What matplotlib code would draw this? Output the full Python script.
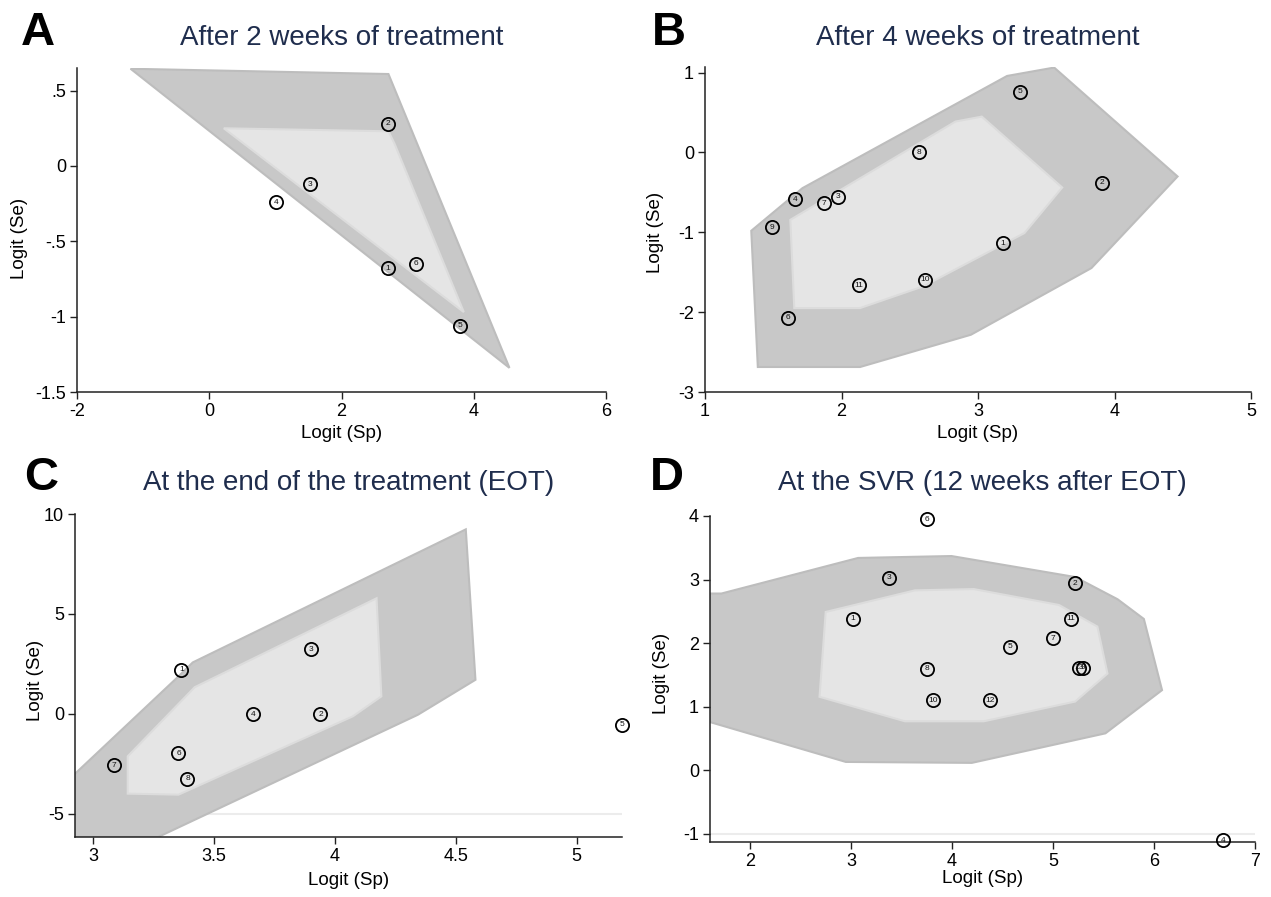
import matplotlib
matplotlib.use("Agg")
from matplotlib import pyplot as plt
from matplotlib.patches import Polygon

plt.rcParams["font.family"] = ["Liberation Sans", "DejaVu Sans"]

# ---- Panel A: after 2 weeks ----
a_ids = ["1", "2", "3", "4", "5", "6"]
a_sp = [2.70, 2.70, 1.53, 1.01, 3.79, 3.12]
a_se = [-0.68, 0.28, -0.12, -0.24, -1.06, -0.65]
a_outer = [(-1.19, 0.645), (2.71, 0.61), (4.54, -1.34)]
a_inner = [(0.22, 0.25), (2.71, 0.23), (2.80, 0.15), (3.85, -0.97)]

# ---- Panel B: after 4 weeks ----
b_ids = ["1", "2", "3", "4", "5", "6", "7", "8", "9", "10", "11"]
b_sp = [3.18, 3.91, 1.975, 1.66, 3.31, 1.61, 1.87, 2.57, 1.49, 2.61, 2.13]
b_se = [-1.14, -0.38, -0.556, -0.585, 0.76, -2.07, -0.635, 0.0, -0.935, -1.594, -1.665]
b_outer = [(1.339, -0.981), (1.714, -0.447), (3.213, 0.958), (3.558, 1.063),
           (4.462, -0.301), (3.831, -1.448), (2.948, -2.283), (2.136, -2.687),
           (1.387, -2.687)]
b_inner = [(1.625, -0.844), (2.835, 0.387), (3.028, 0.449), (3.617, -0.439),
           (3.34, -1.01), (2.597, -1.678), (2.136, -1.949), (1.654, -1.949)]

# ---- Panel C: end of treatment ----
c_ids = ["1", "2", "3", "4", "5", "6", "7", "8"]
c_sp = [3.366, 3.941, 3.903, 3.664, 5.186, 3.354, 3.086, 3.391]
c_se = [2.2, -0.02, 3.23, -0.02, -0.55, -1.97, -2.58, -3.25]
c_outer = [(2.90, -3.3), (3.346, 1.78), (3.413, 2.57), (4.542, 9.23),
           (4.582, 1.7), (4.344, -0.05), (3.27, -6.17), (2.90, -6.17)]
c_inner = [(3.144, -4.0), (3.144, -2.13), (3.421, 1.33), (4.173, 5.78),
           (4.193, 0.87), (4.075, -0.13), (3.354, -4.05)]

# ---- Panel D: SVR ----
d_ids = ["1", "2", "3", "4", "5", "6", "7", "8", "13", "9", "10", "11", "12"]
d_sp = [3.02, 5.22, 3.38, 6.68, 4.58, 3.755, 5.0, 3.75, 5.26, 5.30, 3.815, 5.18, 4.38]
d_se = [2.38, 2.94, 3.03, -1.10, 1.94, 3.95, 2.08, 1.60, 1.61, 1.61, 1.10, 2.38, 1.10]
d_outer = [(1.60, 2.78), (1.719, 2.78), (3.072, 3.34), (3.996, 3.37), (5.22, 3.04),
           (5.64, 2.69), (5.90, 2.38), (6.08, 1.26), (5.52, 0.58), (4.197, 0.115),
           (2.95, 0.13), (1.60, 0.76)]
d_inner = [(2.751, 2.49), (3.634, 2.83), (4.217, 2.85), (5.06, 2.60), (5.44, 2.26),
           (5.54, 1.52), (5.22, 1.08), (4.317, 0.77), (3.534, 0.77), (2.69, 1.155)]

W, H = 1271, 897
fig = plt.figure(figsize=(W / 100, H / 100), dpi=100)


def px(x, y):
    # 像素 -> figure 坐标
    return x / W, 1 - y / H


# 每个面板: 轴区域像素 (左, 上, 右, 下), 标题/字母/轴标题的位置
panels = [
    dict(letter="A", title="After 2 weeks of treatment", box=(77, 68, 606, 392),
         ids=a_ids, sp=a_sp, se=a_se, outer=a_outer, inner=a_inner,
         xl=(-2, 6), yl=(-1.5, 0.65),
         xt=[-2, 0, 2, 4, 6], xtl=["-2", "0", "2", "4", "6"],
         yt=[-1.5, -1, -0.5, 0, 0.5], ytl=["-1.5", "-1", "-.5", "0", ".5"],
         faint=None, let_xy=(21, 45), tit_y=45, ylab=(20, 238), xlab_y=433),
    dict(letter="B", title="After 4 weeks of treatment", box=(705, 67, 1251, 392),
         ids=b_ids, sp=b_sp, se=b_se, outer=b_outer, inner=b_inner,
         xl=(1, 5), yl=(-3, 1.07),
         xt=[1, 2, 3, 4, 5], xtl=["1", "2", "3", "4", "5"],
         yt=[-3, -2, -1, 0, 1], ytl=["-3", "-2", "-1", "0", "1"],
         faint=None, let_xy=(652, 45), tit_y=45, ylab=(655, 232), xlab_y=433),
    dict(letter="C", title="At the end of the treatment (EOT)", box=(75, 514, 622, 837),
         ids=c_ids, sp=c_sp, se=c_se, outer=c_outer, inner=c_inner,
         xl=(2.926, 5.188), yl=(-6.17, 10),
         xt=[3, 3.5, 4, 4.5, 5], xtl=["3", "3.5", "4", "4.5", "5"],
         yt=[-5, 0, 5, 10], ytl=["-5", "0", "5", "10"],
         faint=-5, let_xy=(24, 490), tit_y=490, ylab=(36, 680), xlab_y=880),
    dict(letter="D", title="At the SVR (12 weeks after EOT)", box=(710, 516, 1255, 842),
         ids=d_ids, sp=d_sp, se=d_se, outer=d_outer, inner=d_inner,
         xl=(1.606, 7), yl=(-1.13, 4.0),
         xt=[2, 3, 4, 5, 6, 7], xtl=["2", "3", "4", "5", "6", "7"],
         yt=[-1, 0, 1, 2, 3, 4], ytl=["-1", "0", "1", "2", "3", "4"],
         faint=-1, let_xy=(650, 490), tit_y=490, ylab=(661, 673), xlab_y=878),
]

for p in panels:
    l, t, r, b = p["box"]
    ax = fig.add_axes([l / W, 1 - b / H, (r - l) / W, (b - t) / H])
    ax.set_xlim(p["xl"])
    ax.set_ylim(p["yl"])
    if p["faint"] is not None:
        ax.axhline(p["faint"], color="#ececec", lw=1.5, zorder=0)
    ax.add_patch(Polygon(p["outer"], closed=True, facecolor="#c8c8c8",
                         edgecolor="#bdbdbd", lw=1.5, zorder=1))
    ax.add_patch(Polygon(p["inner"], closed=True, facecolor="#e5e5e5",
                         edgecolor="#dcdcdc", lw=1.5, zorder=2))
    ax.plot(p["sp"], p["se"], "o", ms=9.5, mfc="none", mec="black", mew=1.3,
            zorder=4, clip_on=False)
    for s, x, y in zip(p["ids"], p["sp"], p["se"]):
        ax.text(x, y, s, fontsize=6, ha="center", va="center",
                zorder=5, color="#111111")
    for side in ["top", "right"]:
        ax.spines[side].set_visible(False)
    for side in ["left", "bottom"]:
        ax.spines[side].set_color("#222222")
        ax.spines[side].set_linewidth(1.1)
    ax.set_xticks(p["xt"])
    ax.set_xticklabels(p["xtl"])
    ax.set_yticks(p["yt"])
    ax.set_yticklabels(p["ytl"])
    ax.tick_params(labelsize=13, length=5, width=1, color="#222222", pad=3)

    # 标题、字母、轴标题
    fig.text(*px((l + r) / 2, p["tit_y"]), p["title"], fontsize=20,
             color="#1f2d4d", ha="center", va="baseline")
    fig.text(*px(*p["let_xy"]), p["letter"], fontsize=34, fontweight="bold",
             ha="left", va="baseline")
    fig.text(*px(*p["ylab"]), "Logit (Se)", fontsize=13.5, rotation=90,
             ha="center", va="center")
    fig.text(*px((l + r) / 2, p["xlab_y"]), "Logit (Sp)", fontsize=13.5,
             ha="center", va="center")

fig.savefig("out.png", dpi=100)
